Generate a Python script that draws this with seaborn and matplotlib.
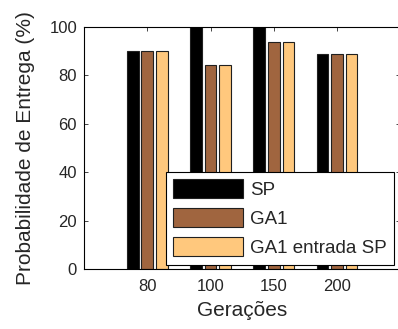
import pandas as pd
import matplotlib.pyplot as plt
import seaborn as sns

geracoes = ["80", "100", "150", "200"]
series = ["SP", "GA1", "GA1 entrada SP"]
sp = [90.0, 100.0, 100.0, 88.8]
ga1 = [90.0, 84.5, 93.6, 88.8]
ga1_sp = [90.0, 84.5, 93.6, 88.8]
cores = ["#000000", "#A0653F", "#FFC87D"]

df = pd.DataFrame({
    "Gerações": geracoes * 3,
    "valor": sp + ga1 + ga1_sp,
    "serie": [s for s in series for _ in geracoes],
})

sns.set_style("white")
plt.rcParams["font.family"] = ["Liberation Sans", "DejaVu Sans"]

fig = plt.figure(figsize=(3.98, 3.29), dpi=100)
ax = fig.add_axes([0.211, 0.182, 0.795, 0.736])

sns.barplot(data=df, x="Gerações", y="valor", hue="serie", order=geracoes,
            hue_order=series, palette=cores, saturation=1, width=0.69, gap=0.2,
            edgecolor="#202020", linewidth=0.8, ax=ax)

ax.set_ylim(0, 100)
ax.set_xlim(-1, 4)
ax.set_yticks([0, 20, 40, 60, 80, 100])
ax.set_xlabel("Gerações", fontsize=15, labelpad=5)
ax.set_ylabel("Probabilidade de Entrega (%)", fontsize=15, labelpad=10)
ax.tick_params(axis="both", labelsize=12, direction="in", length=3, width=0.6,
               top=True, right=True, bottom=True, left=True)
ax.tick_params(axis="x", pad=7)
ax.tick_params(axis="y", pad=5)
for s in ax.spines.values():
    s.set_visible(True)
    s.set_color("black")
    s.set_linewidth(0.8)

ax.legend(loc="lower right", bbox_to_anchor=(0.993, 0.003), fontsize=13.5,
          frameon=True, fancybox=False, edgecolor="black", framealpha=1,
          handlelength=3.7, handleheight=1.15, handletextpad=0.4,
          labelspacing=0.5, borderpad=0.4, borderaxespad=0.2)
ax.get_legend().get_frame().set_linewidth(0.8)

fig.savefig("out.png", dpi=100)
